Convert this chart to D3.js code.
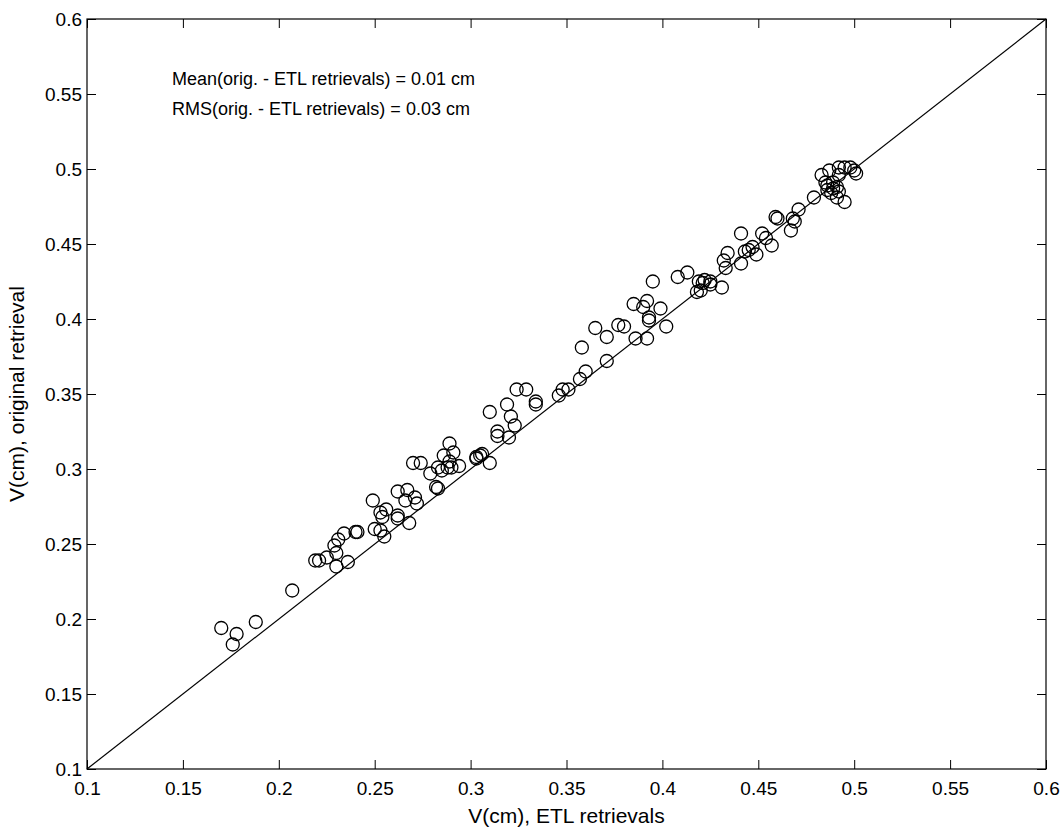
<!DOCTYPE html>
<html>
<head>
<meta charset="utf-8">
<script src="https://d3js.org/d3.v7.min.js"></script>
<style>
  body { margin: 0; background: #fff; }
  text { font-family: "Liberation Sans", Arial, sans-serif; fill: #000; }
</style>
</head>
<body>
<div id="chart"></div>
<script>
/* ETL retrievals (x) against original retrievals (y), in cm */
var etl = [0.170, 0.178, 0.176, 0.188, 0.207, 0.219, 0.221, 0.225, 0.230, 0.236,
  0.230, 0.229, 0.231, 0.234, 0.240, 0.241, 0.249, 0.250, 0.253, 0.255,
  0.253, 0.254, 0.256, 0.262, 0.262, 0.268, 0.262, 0.267, 0.266, 0.271,
  0.272, 0.270, 0.274, 0.279, 0.282, 0.283, 0.283, 0.285, 0.288, 0.290,
  0.294, 0.289, 0.286, 0.289, 0.291, 0.303, 0.305, 0.306, 0.303, 0.310,
  0.310, 0.314, 0.314, 0.320, 0.323, 0.321, 0.319, 0.324, 0.329, 0.334,
  0.334, 0.346, 0.348, 0.351, 0.357, 0.360, 0.371, 0.358, 0.365, 0.371,
  0.377, 0.380, 0.386, 0.392, 0.385, 0.390, 0.392, 0.393, 0.393, 0.399,
  0.402, 0.395, 0.408, 0.413, 0.419, 0.421, 0.420, 0.418, 0.422, 0.425,
  0.425, 0.431, 0.432, 0.433, 0.441, 0.434, 0.441, 0.443, 0.445, 0.447,
  0.449, 0.452, 0.454, 0.457, 0.459, 0.460, 0.468, 0.469, 0.471, 0.467,
  0.479, 0.483, 0.487, 0.492, 0.495, 0.498, 0.500, 0.501, 0.492, 0.485,
  0.486, 0.489, 0.486, 0.489, 0.491, 0.488, 0.492, 0.491, 0.495];

var orig = [0.194, 0.190, 0.183, 0.198, 0.219, 0.239, 0.239, 0.241, 0.235, 0.238,
  0.244, 0.249, 0.253, 0.257, 0.258, 0.258, 0.279, 0.260, 0.259, 0.255,
  0.271, 0.268, 0.273, 0.269, 0.267, 0.264, 0.285, 0.286, 0.279, 0.281,
  0.277, 0.304, 0.304, 0.297, 0.288, 0.287, 0.301, 0.299, 0.301, 0.301,
  0.302, 0.305, 0.309, 0.317, 0.311, 0.308, 0.309, 0.310, 0.307, 0.304,
  0.338, 0.325, 0.322, 0.321, 0.329, 0.335, 0.343, 0.353, 0.353, 0.345,
  0.343, 0.349, 0.353, 0.353, 0.360, 0.365, 0.372, 0.381, 0.394, 0.388,
  0.396, 0.395, 0.387, 0.387, 0.410, 0.408, 0.412, 0.401, 0.399, 0.407,
  0.395, 0.425, 0.428, 0.431, 0.425, 0.424, 0.419, 0.418, 0.426, 0.425,
  0.423, 0.421, 0.439, 0.434, 0.437, 0.444, 0.457, 0.445, 0.446, 0.448,
  0.443, 0.457, 0.454, 0.449, 0.468, 0.467, 0.467, 0.465, 0.473, 0.459,
  0.481, 0.496, 0.499, 0.501, 0.501, 0.501, 0.499, 0.497, 0.496, 0.491,
  0.489, 0.491, 0.486, 0.487, 0.488, 0.484, 0.485, 0.481, 0.478];

var tickValues = [0.1, 0.15, 0.2, 0.25, 0.3, 0.35, 0.4, 0.45, 0.5, 0.55, 0.6];
var notes = ["Mean(orig. - ETL retrievals) = 0.01 cm",
             "RMS(orig. - ETL retrievals) = 0.03 cm"];

var margin = {top: 19, right: 17, bottom: 58, left: 87},
    width = 1063 - margin.left - margin.right,
    height = 827 - margin.top - margin.bottom;

var svg = d3.select("#chart").append("svg")
    .attr("width", 1063)
    .attr("height", 827);

var g = svg.append("g")
    .attr("transform", "translate(" + margin.left + "," + margin.top + ")");

var x = d3.scaleLinear().domain([0.1, 0.6]).range([0, width]);
var y = d3.scaleLinear().domain([0.1, 0.6]).range([height, 0]);

var fmt = function(d) { return d3.format("")(+d.toFixed(2)); };

/* axes: labelled bottom and left, plain ticks mirrored top and right */
function styleAxis(sel) {
  sel.select(".domain").remove();
  sel.selectAll("line").attr("stroke", "#000").attr("stroke-width", 1);
  sel.selectAll("text").attr("font-size", 19).attr("fill", "#000")
     .attr("font-family", "Liberation Sans, Arial, sans-serif");
}

g.append("g")
    .attr("transform", "translate(0," + height + ")")
    .call(d3.axisBottom(x).tickValues(tickValues).tickSize(-9).tickPadding(13).tickFormat(fmt))
    .call(styleAxis);

g.append("g")
    .call(d3.axisLeft(y).tickValues(tickValues).tickSize(-9).tickPadding(5).tickFormat(fmt))
    .call(styleAxis);

g.append("g")
    .call(d3.axisTop(x).tickValues(tickValues).tickSize(-9).tickFormat(""))
    .call(styleAxis);

g.append("g")
    .attr("transform", "translate(" + width + ",0)")
    .call(d3.axisRight(y).tickValues(tickValues).tickSize(-9).tickFormat(""))
    .call(styleAxis);

g.append("rect")
    .attr("width", width)
    .attr("height", height)
    .attr("fill", "none")
    .attr("stroke", "#000")
    .attr("stroke-width", 1.2);

/* 1:1 line */
g.append("line")
    .attr("x1", x(0.1)).attr("y1", y(0.1))
    .attr("x2", x(0.6)).attr("y2", y(0.6))
    .attr("stroke", "#000")
    .attr("stroke-width", 1.2);

g.append("g")
  .selectAll("circle")
  .data(etl.map(function(d, i) { return [d, orig[i]]; }))
  .enter().append("circle")
    .attr("cx", function(d) { return x(d[0]); })
    .attr("cy", function(d) { return y(d[1]); })
    .attr("r", 6.5)
    .attr("fill", "none")
    .attr("stroke", "#000")
    .attr("stroke-width", 1.3);

g.selectAll(".note")
  .data(notes)
  .enter().append("text")
    .attr("class", "note")
    .attr("x", 85)
    .attr("y", function(d, i) { return 66 + i * 30; })
    .attr("font-size", 18)
    .text(function(d) { return d; });

svg.append("text")
    .attr("x", margin.left + width / 2)
    .attr("y", 823)
    .attr("text-anchor", "middle")
    .attr("font-size", 21)
    .text("V(cm), ETL retrievals");

svg.append("text")
    .attr("transform", "translate(24," + (margin.top + height / 2) + ") rotate(-90)")
    .attr("text-anchor", "middle")
    .attr("font-size", 21)
    .text("V(cm), original retrieval");
</script>
</body>
</html>
